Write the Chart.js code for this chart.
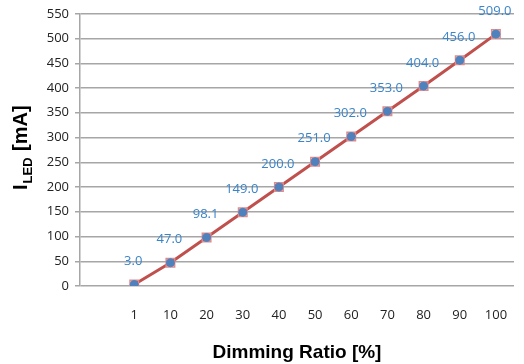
<!DOCTYPE html>
<html>
<head>
<meta charset="utf-8">
<script src="https://cdn.jsdelivr.net/npm/chart.js@4"></script>
<style>
  html, body { margin: 0; padding: 0; background: #fff; }
  #wrap { width: 524px; height: 364px; }
</style>
</head>
<body>
<div id="wrap"><canvas id="chart" width="524" height="364"></canvas></div>
<script>
// first slot is left blank like in the original sheet
const categories = ["", "1", "10", "20", "30", "40", "50", "60", "70", "80", "90", "100"];
const currentValues = [null, 3.0, 47.0, 98.1, 149.0, 200.0, 251.0, 302.0, 353.0, 404.0, 456.0, 509.0];
const yTicks = [0, 50, 100, 150, 200, 250, 300, 350, 400, 450, 500, 550];

const tickFont = { family: "'Open Sans', 'Noto Sans', sans-serif", size: 13 };

// value labels above each point
const valueLabels = {
  id: 'valueLabels',
  afterDatasetsDraw(chart) {
    const ctx = chart.ctx;
    const meta = chart.getDatasetMeta(1);
    ctx.save();
    ctx.font = "13px 'Open Sans', 'Noto Sans', sans-serif";
    ctx.fillStyle = '#3a84c9';
    ctx.textAlign = 'center';
    ctx.textBaseline = 'middle';
    meta.data.forEach((pt, i) => {
      const v = currentValues[i];
      if (v == null) return;
      ctx.fillText(v.toFixed(1), pt.x - 1, pt.y - 23);
    });
    ctx.restore();
  }
};

// y axis title with subscript
const yTitle = {
  id: 'yTitle',
  afterDraw(chart) {
    const ctx = chart.ctx;
    ctx.save();
    ctx.translate(27, 190);
    ctx.rotate(-Math.PI / 2);
    ctx.fillStyle = '#000';
    ctx.textBaseline = 'alphabetic';
    ctx.textAlign = 'left';
    ctx.font = "bold 20px 'Liberation Sans', Arial, sans-serif";
    ctx.fillText('I', 0, 0);
    let x = ctx.measureText('I').width + 1;
    ctx.font = "bold 13px 'Liberation Sans', Arial, sans-serif";
    ctx.fillText('LED', x, 5);
    x += ctx.measureText('LED').width + 1;
    ctx.font = "bold 20px 'Liberation Sans', Arial, sans-serif";
    ctx.fillText(' [mA]', x, 0);
    ctx.restore();
  }
};

new Chart(document.getElementById('chart'), {
  type: 'line',
  data: {
    labels: categories,
    datasets: [
      {
        data: currentValues,
        borderColor: '#c0504d',
        borderWidth: 3,
        pointStyle: 'rect',
        pointRadius: 6,
        pointBorderColor: '#e08a8c',
        pointBorderWidth: 1.5,
        pointBackgroundColor: 'rgba(0,0,0,0)',
        tension: 0,
        order: 2
      },
      {
        data: currentValues,
        showLine: false,
        pointStyle: 'circle',
        pointRadius: 4,
        pointBackgroundColor: '#4f81bd',
        pointBorderColor: '#4f81bd',
        pointBorderWidth: 1,
        order: 1
      }
    ]
  },
  options: {
    responsive: false,
    animation: false,
    layout: { padding: { top: 13, right: 10, left: 0, bottom: 0 } },
    plugins: { legend: { display: false }, tooltip: { enabled: false } },
    scales: {
      x: {
        offset: true,
        grid: { display: false, drawTicks: false },
        border: { display: false },
        ticks: { font: tickFont, color: '#222', padding: 21, autoSkip: false, maxRotation: 0 },
        title: {
          display: true,
          text: 'Dimming Ratio [%]',
          color: '#000',
          font: { family: "'Liberation Sans', Arial, sans-serif", size: 19, weight: 'bold' },
          padding: { top: 6, bottom: 0 }
        },
        afterFit(scale) {
          scale.height = 78;
          scale.paddingLeft = 0;
          scale.paddingRight = 0;
        }
      },
      y: {
        min: 0,
        max: 550,
        afterBuildTicks(scale) { scale.ticks = yTicks.map(v => ({ value: v })); },
        grid: { color: '#a6a6a6', lineWidth: 1.5, tickLength: 5 },
        border: { color: '#a6a6a6', width: 1.5 },
        ticks: { font: tickFont, color: '#222', padding: 6 },
        afterFit(scale) { scale.width = 80; }
      }
    }
  },
  plugins: [valueLabels, yTitle]
});
</script>
</body>
</html>
